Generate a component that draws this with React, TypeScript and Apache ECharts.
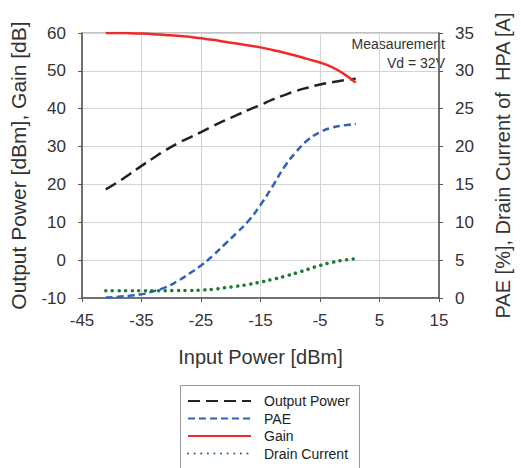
import React, { useEffect, useRef } from 'react';
import * as echarts from 'echarts';

const inputPower = [-41, -39, -37, -35, -33, -31, -29, -27, -25, -23, -21, -19, -17, -15, -13, -11, -9, -7, -5, -3, -1, 1];
const outputPower = [18.7, 20.6, 22.7, 24.9, 27.0, 29.0, 30.8, 32.3, 33.8, 35.4, 36.9, 38.3, 39.7, 41.0, 42.4, 43.6, 44.7, 45.6, 46.4, 47.0, 47.5, 47.9];
const gain = [60.0, 60.0, 59.95, 59.85, 59.7, 59.5, 59.3, 59.0, 58.6, 58.2, 57.7, 57.2, 56.7, 56.2, 55.5, 54.8, 54.0, 53.1, 52.2, 51.0, 49.2, 46.9];
const pae = [0.05, 0.15, 0.3, 0.5, 0.9, 1.4, 2.2, 3.2, 4.3, 5.6, 7.1, 8.6, 10.2, 12.3, 14.7, 17.3, 19.3, 20.9, 21.9, 22.5, 22.8, 23.0];
const drainCurrent = [0.95, 0.95, 0.95, 0.95, 0.95, 0.95, 1.0, 1.0, 1.05, 1.15, 1.35, 1.55, 1.8, 2.1, 2.45, 2.85, 3.3, 3.8, 4.3, 4.7, 5.0, 5.2];
const seriesNames = ['Output Power', 'PAE', 'Gain', 'Drain Current'];
const noteLines = ['Measaurement', 'Vd = 32V'];

const FONT = '"Liberation Sans", Arial, Helvetica, sans-serif';

export default function App() {
  const ref = useRef<HTMLDivElement>(null);
  useEffect(() => {
    const chart = echarts.init(ref.current!, null, { renderer: 'svg' });
    const pair = (ys: number[]) => inputPower.map((x, i) => [x, ys[i]]);
    chart.setOption({
      animation: false,
      backgroundColor: '#fff',
      textStyle: { fontFamily: FONT },
      grid: {
        left: 80, right: 73, top: 33, bottom: 170,
        show: true, borderColor: '#888', borderWidth: 1.2, backgroundColor: 'transparent',
      },
      legend: {
        orient: 'vertical',
        left: 187,
        top: 394,
        padding: 0,
        itemWidth: 63,
        itemHeight: 14,
        itemGap: 3.5,
        data: seriesNames,
        itemStyle: { opacity: 0 },
        textStyle: { fontSize: 14, color: '#222', fontFamily: FONT, padding: [0, 0, 0, 8] },
      },
      xAxis: {
        type: 'value', min: -45, max: 15, interval: 10,
        name: 'Input Power [dBm]', nameLocation: 'middle', nameGap: 49,
        nameTextStyle: { fontSize: 20, color: '#333', fontFamily: FONT },
        axisLine: { onZero: false, lineStyle: { color: '#555', width: 1.5 } },
        axisTick: { show: true, length: 4, lineStyle: { color: '#555' } },
        axisLabel: { fontSize: 17, color: '#333', margin: 14, fontFamily: FONT },
        splitLine: { show: true, lineStyle: { color: '#d4d4d4', width: 1 } },
      },
      yAxis: [
        {
          type: 'value', min: -10, max: 60, interval: 10, position: 'left',
          name: 'Output Power [dBm], Gain [dB]', nameLocation: 'middle', nameGap: 53,
          nameTextStyle: { fontSize: 21, color: '#333', fontFamily: FONT },
          axisLine: { show: true, onZero: false, lineStyle: { color: '#555', width: 1.5 } },
          axisTick: { show: true, length: 4, lineStyle: { color: '#555' } },
          axisLabel: { fontSize: 17, color: '#333', margin: 16, fontFamily: FONT },
          splitLine: { show: true, lineStyle: { color: '#d4d4d4', width: 1 } },
        },
        {
          type: 'value', min: 0, max: 35, interval: 5, position: 'right',
          name: 'PAE [%], Drain Current of  HPA [A]', nameLocation: 'middle', nameGap: 54,
          nameTextStyle: { fontSize: 20, color: '#333', fontFamily: FONT },
          axisLine: { show: true, onZero: false, lineStyle: { color: '#555', width: 1.5 } },
          axisTick: { show: true, length: 4, lineStyle: { color: '#555' } },
          axisLabel: { fontSize: 17, color: '#333', margin: 16, fontFamily: FONT },
          splitLine: { show: false },
        },
      ],
      graphic: [
        {
          type: 'rect', silent: true,
          shape: { x: 180.5, y: 385.5, width: 179, height: 100 },
          style: { fill: 'none', stroke: '#999', lineWidth: 1 },
        },
        {
          type: 'text', right: 76, top: 37,
          style: { text: noteLines[0], fontSize: 14, fill: '#333', fontFamily: FONT, textAlign: 'right' },
        },
        {
          type: 'text', right: 76, top: 56,
          style: { text: noteLines[1], fontSize: 14, fill: '#333', fontFamily: FONT, textAlign: 'right' },
        },
      ],
      series: [
        {
          name: seriesNames[0], type: 'line', yAxisIndex: 0, data: pair(outputPower),
          smooth: true, symbol: 'none', showSymbol: false, z: 3,
          lineStyle: { color: '#222', width: 2.5, type: [12, 6] },
          itemStyle: { color: '#222' },
        },
        {
          name: seriesNames[1], type: 'line', yAxisIndex: 1, data: pair(pae),
          smooth: true, symbol: 'none', showSymbol: false, z: 3,
          lineStyle: { color: '#2F62B8', width: 2.5, type: [7, 4] },
          itemStyle: { color: '#2F62B8' },
        },
        {
          name: seriesNames[2], type: 'line', yAxisIndex: 0, data: pair(gain),
          smooth: true, symbol: 'none', showSymbol: false, z: 4,
          lineStyle: { color: '#EE2A2A', width: 2.5, type: 'solid' },
          itemStyle: { color: '#EE2A2A' },
        },
        {
          name: seriesNames[3], type: 'line', yAxisIndex: 1, data: pair(drainCurrent),
          smooth: true, symbol: 'none', showSymbol: false, z: 3,
          lineStyle: { color: '#1F7A30', width: 3.5, type: [0.1, 6.5], cap: 'round' },
          itemStyle: { color: '#1F7A30' },
        },
      ],
    });
    return () => chart.dispose();
  }, []);
  return (
    <div
      ref={ref}
      style={{ position: 'fixed', left: 0, top: 0, width: 521, height: 468, background: '#fff' }}
    />
  );
}
